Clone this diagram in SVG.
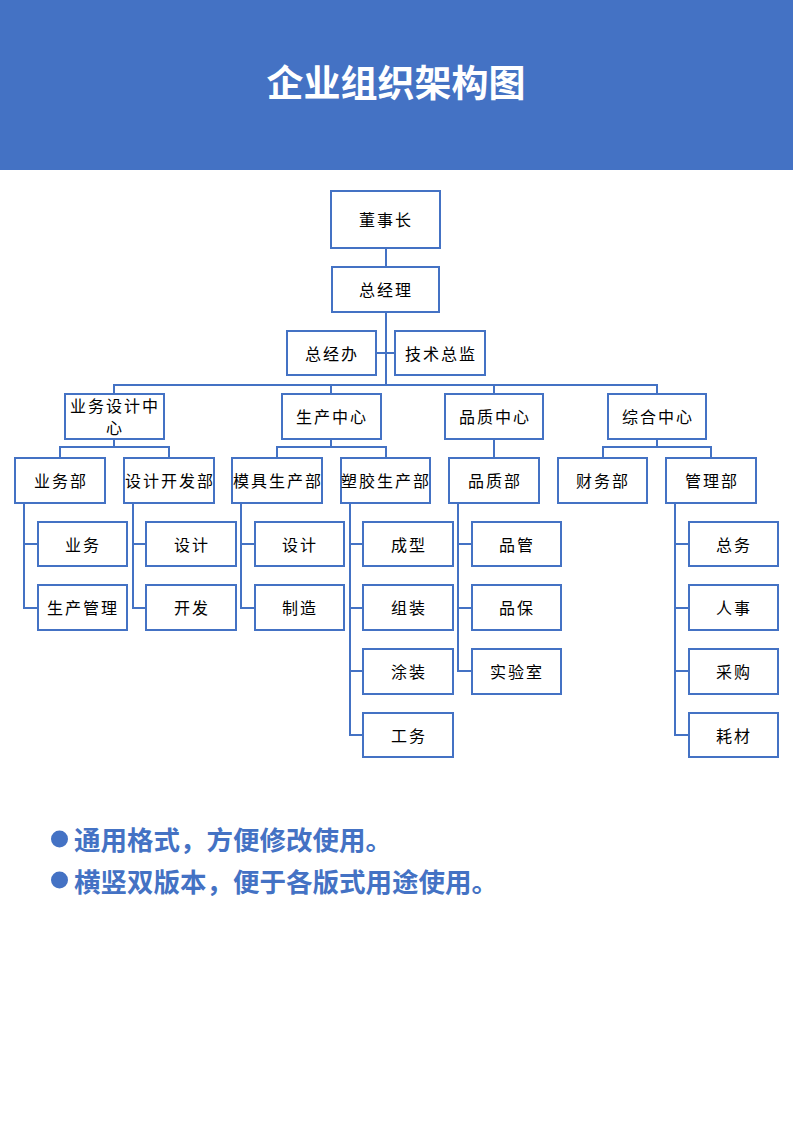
<svg xmlns="http://www.w3.org/2000/svg" width="793" height="1122" viewBox="0 0 793 1122">
<style>
.box{fill:#fff;stroke:#4472C4;stroke-width:2}
.lbl{font-family:"Noto Sans CJK SC","Noto Sans",sans-serif;font-size:16px;fill:#000;text-anchor:middle;dominant-baseline:central;letter-spacing:2px}
.ln{fill:none;stroke:#4472C4;stroke-width:2}
.title{font-family:"Noto Sans CJK SC","Noto Sans",sans-serif;font-size:37px;font-weight:bold;fill:#fff;text-anchor:middle;dominant-baseline:central}
.note{font-family:"Noto Sans CJK SC","Noto Sans",sans-serif;font-size:26.5px;font-weight:bold;fill:#4472C4;dominant-baseline:central}
</style>
<rect x="0" y="0" width="793" height="170" fill="#4472C4"/>
<text class="title" x="396" y="81">企业组织架构图</text>

<g id="connectors" class="ln">
<path d="M386 248V267"/>
<path d="M386 312V385"/>
<path d="M376 353H395"/>
<path d="M114 394V385H657V394"/>
<path d="M331 385V394"/>
<path d="M494 385V394"/>
<path d="M114 439V447"/>
<path d="M60 457V447H169V457"/>
<path d="M331 439V447"/>
<path d="M277 457V447H386V457"/>
<path d="M494 439V457"/>
<path d="M657 439V447"/>
<path d="M603 457V447H711V457"/>
<path d="M24 503V608H38M24 544H38"/>
<path d="M133 503V608H146M133 544H146"/>
<path d="M241 503V608H255M241 544H255"/>
<path d="M350 503V735H363M350 544H363M350 608H363M350 671H363"/>
<path d="M458 503V671H472M458 544H472M458 608H472"/>
<path d="M675 503V735H689M675 544H689M675 608H689M675 671H689"/>
</g>

<g id="n-dongshizhang"><rect class="box" x="331" y="191" width="109" height="57"/><text class="lbl" x="386" y="219">董事长</text></g>
<g id="n-zongjingli"><rect class="box" x="332" y="267" width="107" height="45"/><text class="lbl" x="386" y="289">总经理</text></g>
<g id="n-zongjingban"><rect class="box" x="287" y="331" width="89" height="44"/><text class="lbl" x="332" y="353">总经办</text></g>
<g id="n-jishuzongjian"><rect class="box" x="395" y="331" width="90" height="44"/><text class="lbl" x="441" y="353">技术总监</text></g>

<g id="n-yewusheji"><rect class="box" x="65" y="394" width="99" height="45"/><text class="lbl" x="115" y="405">业务设计中</text><text class="lbl" x="115" y="427">心</text></g>
<g id="n-shengchan"><rect class="box" x="282" y="394" width="99" height="45"/><text class="lbl" x="332" y="416">生产中心</text></g>
<g id="n-pinzhi"><rect class="box" x="445" y="394" width="98" height="45"/><text class="lbl" x="495" y="416">品质中心</text></g>
<g id="n-zonghe"><rect class="box" x="608" y="394" width="98" height="45"/><text class="lbl" x="658" y="416">综合中心</text></g>

<g id="n-yewubu"><rect class="box" x="15" y="458" width="90" height="45"/><text class="lbl" x="61" y="480">业务部</text></g>
<g id="n-shejikaifabu"><rect class="box" x="124" y="458" width="90" height="45"/><text class="lbl" x="170" y="480">设计开发部</text></g>
<g id="n-mojubu"><rect class="box" x="232" y="458" width="90" height="45"/><text class="lbl" x="278" y="480">模具生产部</text></g>
<g id="n-sujiaobu"><rect class="box" x="341" y="458" width="89" height="45"/><text class="lbl" x="386" y="480">塑胶生产部</text></g>
<g id="n-pinzhibu"><rect class="box" x="449" y="458" width="90" height="45"/><text class="lbl" x="495" y="480">品质部</text></g>
<g id="n-caiwubu"><rect class="box" x="558" y="458" width="89" height="45"/><text class="lbl" x="603" y="480">财务部</text></g>
<g id="n-guanlibu"><rect class="box" x="666" y="458" width="90" height="45"/><text class="lbl" x="712" y="480">管理部</text></g>

<g id="n-yewu"><rect class="box" x="38" y="522" width="89" height="44"/><text class="lbl" x="83" y="544">业务</text></g>
<g id="n-shengchanguanli"><rect class="box" x="38" y="585" width="89" height="45"/><text class="lbl" x="83" y="607">生产管理</text></g>
<g id="n-sheji1"><rect class="box" x="146" y="522" width="90" height="44"/><text class="lbl" x="192" y="544">设计</text></g>
<g id="n-kaifa"><rect class="box" x="146" y="585" width="90" height="45"/><text class="lbl" x="192" y="607">开发</text></g>
<g id="n-sheji2"><rect class="box" x="255" y="522" width="89" height="44"/><text class="lbl" x="300" y="544">设计</text></g>
<g id="n-zhizao"><rect class="box" x="255" y="585" width="89" height="45"/><text class="lbl" x="300" y="607">制造</text></g>
<g id="n-chengxing"><rect class="box" x="363" y="522" width="90" height="44"/><text class="lbl" x="409" y="544">成型</text></g>
<g id="n-zuzhuang"><rect class="box" x="363" y="585" width="90" height="45"/><text class="lbl" x="409" y="607">组装</text></g>
<g id="n-tuzhuang"><rect class="box" x="363" y="649" width="90" height="45"/><text class="lbl" x="409" y="671">涂装</text></g>
<g id="n-gongwu"><rect class="box" x="363" y="713" width="90" height="44"/><text class="lbl" x="409" y="735">工务</text></g>
<g id="n-pinguan"><rect class="box" x="472" y="522" width="89" height="44"/><text class="lbl" x="517" y="544">品管</text></g>
<g id="n-pinbao"><rect class="box" x="472" y="585" width="89" height="45"/><text class="lbl" x="517" y="607">品保</text></g>
<g id="n-shiyanshi"><rect class="box" x="472" y="649" width="89" height="45"/><text class="lbl" x="517" y="671">实验室</text></g>
<g id="n-zongwu"><rect class="box" x="689" y="522" width="89" height="44"/><text class="lbl" x="734" y="544">总务</text></g>
<g id="n-renshi"><rect class="box" x="689" y="585" width="89" height="45"/><text class="lbl" x="734" y="607">人事</text></g>
<g id="n-caigou"><rect class="box" x="689" y="649" width="89" height="45"/><text class="lbl" x="734" y="671">采购</text></g>
<g id="n-haocai"><rect class="box" x="689" y="713" width="89" height="44"/><text class="lbl" x="734" y="735">耗材</text></g>

<g id="notes">
<circle cx="59.5" cy="839" r="8.5" fill="#4472C4"/>
<text class="note" x="74" y="838">通用格式，方便修改使用。</text>
<circle cx="59.5" cy="880" r="8.5" fill="#4472C4"/>
<text class="note" x="74" y="880">横竖双版本，便于各版式用途使用。</text>
</g>
</svg>
